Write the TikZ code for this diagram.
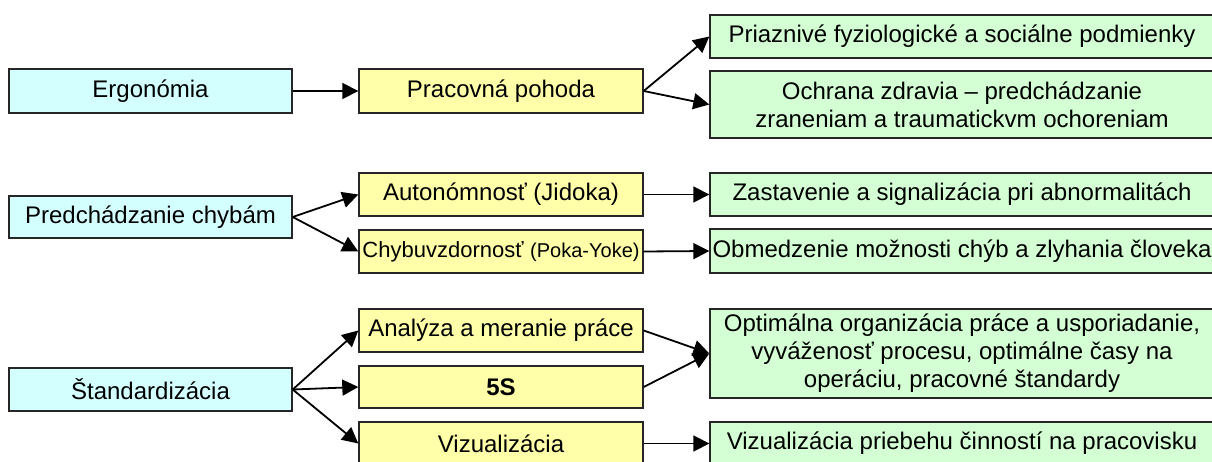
\documentclass[tikz,border=0pt]{standalone}
\usepackage{fontspec}
\setmainfont{Liberation Sans}
\usetikzlibrary{arrows.meta}
\definecolor{cbl}{RGB}{212,255,255}
\definecolor{cye}{RGB}{255,255,170}
\definecolor{cgr}{RGB}{212,255,212}
\tikzset{
  box/.style={draw=black!85, line width=1.4pt, inner sep=0pt, align=center,
    font=\fontsize{24}{28}\selectfont},
  bluebox/.style={box, fill=cbl},
  yelbox/.style={box, fill=cye},
  grbox/.style={box, fill=cgr},
  arr/.style={line width=1.8pt, -{Triangle[length=16pt,width=16pt]}}
}
\begin{document}
\begin{tikzpicture}[x=1pt,y=-1pt]
\useasboundingbox (0,0) rectangle (1212,462);
\clip (0,0) rectangle (1212,462);
% left column
\node[bluebox, minimum width=283pt, minimum height=44pt] (erg) at (150.5,91) {Ergonómia};
\node[bluebox, minimum width=283pt, minimum height=42pt] (pred) at (150.5,217) {Predchádzanie chybám};
\node[bluebox, minimum width=283pt, minimum height=43pt] (stand) at (150.5,389.5) {Štandardizácia};
% middle column
\node[yelbox, minimum width=284pt, minimum height=44pt] (prac) at (501,91) {Pracovná pohoda};
\node[yelbox, minimum width=284pt, minimum height=43pt] (auto) at (501,194.5) {Autonómnosť (Jidoka)};
\node[yelbox, minimum width=284pt, minimum height=43pt] (chyb) at (501,251.5) {{\fontsize{22}{26}\selectfont Chybuvzdornosť} {\fontsize{20}{24}\selectfont(Poka-Yoke)}};
\node[yelbox, minimum width=284pt, minimum height=43pt] (anal) at (501,330.5) {Analýza a meranie práce};
\node[yelbox, minimum width=284pt, minimum height=42pt] (five) at (501,387) {\textbf{5S}};
\node[yelbox, minimum width=284pt, minimum height=43pt] (viz) at (501,443.5) {Vizualizácia};
% right column
\node[grbox, minimum width=504pt, minimum height=43pt] (priaz) at (962,36.5) {Priaznivé fyziologické a sociálne podmienky};
\node[grbox, minimum width=504pt, minimum height=67pt] (ochr) at (962,104.5) {Ochrana zdravia – predchádzanie\\zraneniam a traumatickvm ochoreniam};
\node[grbox, minimum width=504pt, minimum height=43pt] (zast) at (962,194.5) {Zastavenie a signalizácia pri abnormalitách};
\node[grbox, minimum width=504pt, minimum height=44pt] (obm) at (962,251) {Obmedzenie možnosti chýb a zlyhania človeka};
\node[grbox, minimum width=504pt, minimum height=89pt] (opt) at (962,353.5) {Optimálna organizácia práce a usporiadanie,\\vyváženosť procesu, optimálne časy na\\operáciu, pracovné štandardy};
\node[grbox, minimum width=504pt, minimum height=43pt] (vizp) at (962,443.5) {Vizualizácia priebehu činností na pracovisku};
% connectors
\draw[arr] (erg.east) -- (prac.west);
\draw[arr] (prac.east) -- (priaz.west);
\draw[arr] (prac.east) -- (ochr.west);
\draw[arr] (pred.east) -- (auto.west);
\draw[arr] (pred.east) -- (chyb.west);
\draw[arr] (auto.east) -- (zast.west);
\draw[arr] (chyb.east) -- (obm.west);
\draw[arr] (stand.east) -- (anal.west);
\draw[arr] (stand.east) -- (five.west);
\draw[arr] (stand.east) -- (viz.west);
\draw[arr] (anal.east) -- (opt.west);
\draw[arr] (five.east) -- (opt.west);
\draw[arr] (viz.east) -- (vizp.west);
\end{tikzpicture}
\end{document}
